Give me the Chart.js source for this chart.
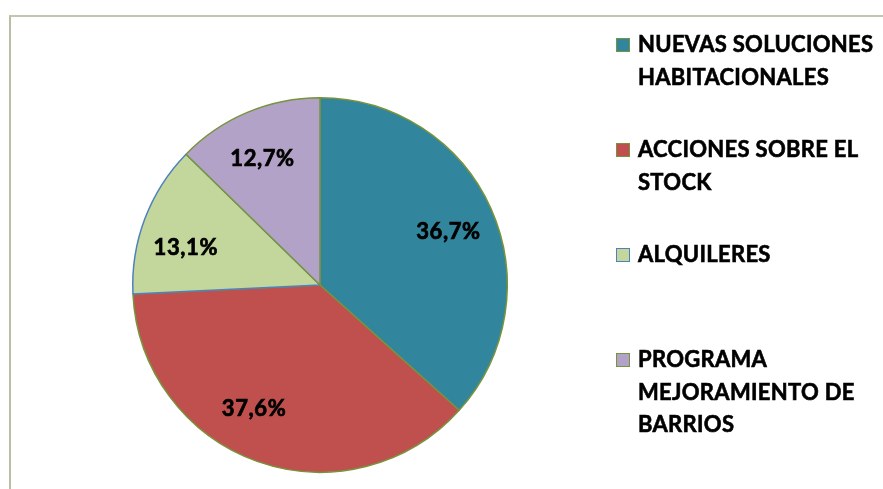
<!DOCTYPE html>
<html>
<head>
<meta charset="utf-8">
<script src="https://cdn.jsdelivr.net/npm/chart.js@4/dist/chart.umd.min.js"></script>
<style>
html,body{margin:0;padding:0;background:#fff;}
#wrap{position:relative;width:883px;height:489px;overflow:hidden;}
#frame{position:absolute;left:9px;top:15px;right:-5px;bottom:-5px;border-top:2px solid #c3c7b2;border-left:2px solid #b9bfa6;}
#c{position:absolute;left:0;top:0;}
.leg{position:absolute;left:616px;font-family:Lato,"Open Sans",sans-serif;font-weight:bold;font-size:22px;line-height:32.5px;color:#000;letter-spacing:0.3px;-webkit-text-stroke:0.6px #000;}
.leg .box{position:absolute;left:0;width:12px;height:12px;border:1.5px solid;}
.leg .txt{position:absolute;left:22px;white-space:nowrap;}
</style>
</head>
<body>
<div id="wrap">
<div id="frame"></div>
<canvas id="c" width="883" height="489"></canvas>
<div id="legend"></div>
</div>
<script>
const categories = [["NUEVAS SOLUCIONES","HABITACIONALES"],["ACCIONES SOBRE EL","STOCK"],["ALQUILERES"],["PROGRAMA","MEJORAMIENTO DE","BARRIOS"]];
const values = [36.7, 37.6, 13.1, 12.7];
const valueLabels = ["36,7%","37,6%","13,1%","12,7%"];
const fillColors = ["#31859C","#C0504D","#C3D69B","#B3A2C7"];
const edgeColors = ["#77933C","#77933C","#4F81BD","#77933C"];
const legendTops = [28, 133, 238, 343];
const labelAngleNudge = [1, 8.6, -4.9, -1.5]; // degrees, label placement tweak

// HTML legend
const legEl = document.getElementById('legend');
categories.forEach((lines,i)=>{
  const d = document.createElement('div');
  d.className='leg';
  d.style.top = legendTops[i]+'px';
  const b = document.createElement('div');
  b.className='box';
  b.style.top='10px';
  b.style.background=fillColors[i];
  b.style.borderColor=edgeColors[i];
  const t = document.createElement('div');
  t.className='txt';
  t.innerHTML = lines.join('<br>');
  d.appendChild(b); d.appendChild(t);
  legEl.appendChild(d);
});

const labelPlugin = {
  id:'pctLabels',
  afterDatasetsDraw(chart){
    const ctx = chart.ctx;
    const meta = chart.getDatasetMeta(0);
    ctx.save();
    ctx.font = 'bold 22px Lato, "Open Sans", sans-serif';
    if ('letterSpacing' in ctx) ctx.letterSpacing = '0.6px';
    ctx.fillStyle = '#000';
    ctx.strokeStyle = '#000';
    ctx.lineWidth = 0.7;
    ctx.textAlign = 'center';
    ctx.textBaseline = 'middle';
    meta.data.forEach((arc,i)=>{
      const p = arc.getProps(['x','y','startAngle','endAngle','outerRadius'], true);
      const mid = (p.startAngle + p.endAngle)/2 + labelAngleNudge[i]*Math.PI/180;
      const r = p.outerRadius*0.745;
      const x = p.x + Math.cos(mid)*r, y = p.y + Math.sin(mid)*r + 1;
      ctx.fillText(valueLabels[i], x, y);
      ctx.strokeText(valueLabels[i], x, y);
    });
    ctx.restore();
  }
};

new Chart(document.getElementById('c'), {
  type:'pie',
  data:{
    labels: categories.map(l=>l.join(' ')),
    datasets:[{
      data: values,
      backgroundColor: fillColors,
      borderColor: edgeColors,
      borderWidth: 1.5
    }]
  },
  options:{
    responsive:false,
    animation:false,
    layout:{padding:{left:132, right:375, top:97, bottom:16}},
    plugins:{legend:{display:false}, tooltip:{enabled:false}}
  },
  plugins:[labelPlugin]
});
</script>
</body>
</html>
